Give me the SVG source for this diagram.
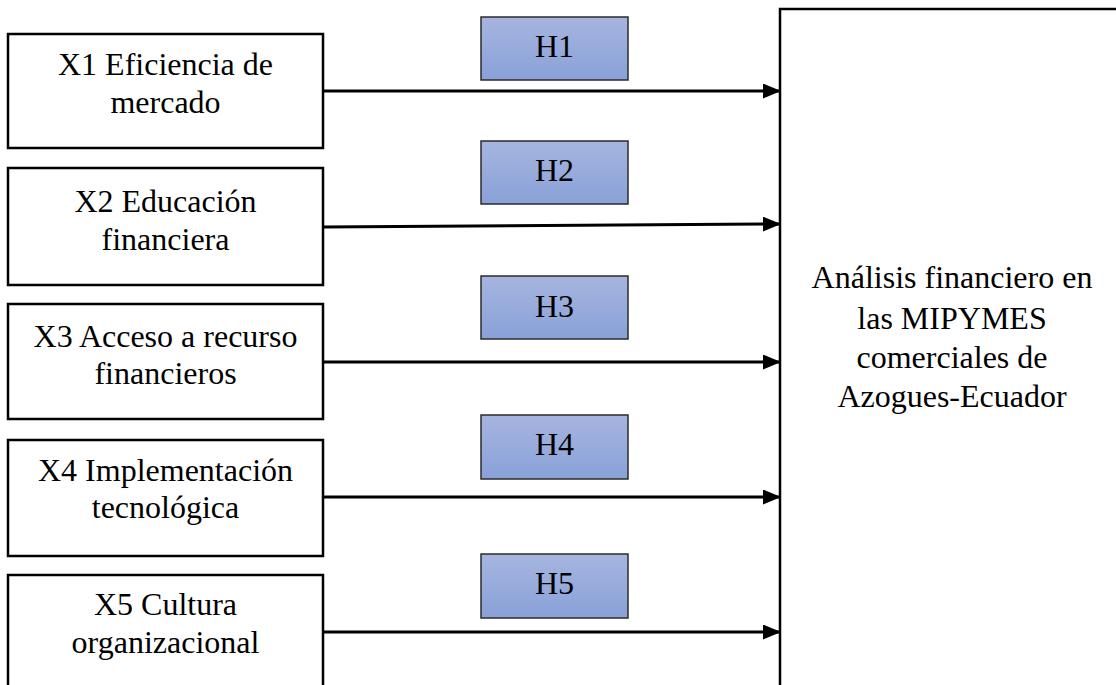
<svg xmlns="http://www.w3.org/2000/svg" width="1116" height="685" viewBox="0 0 1116 685">
<style>
.box{fill:#fff;stroke:#000;stroke-width:2.5}
.h{fill:url(#hg);stroke:#2b2b2b;stroke-width:1.5}
.t{font-family:"Liberation Serif","Times New Roman",serif;font-size:32px;fill:#000;text-anchor:middle}
.c{stroke:#000;stroke-width:3;fill:none;marker-end:url(#ah)}
</style>
<defs>
<linearGradient id="hg" x1="0" y1="0" x2="0" y2="1">
<stop offset="0" stop-color="#a6b5df"/>
<stop offset="1" stop-color="#89a1d8"/>
</linearGradient>
<marker id="ah" viewBox="0 0 18 15" refX="18" refY="7.5" markerWidth="18" markerHeight="15" markerUnits="userSpaceOnUse" orient="auto">
<path d="M0,0 L18,7.5 L0,15 Z" fill="#000"/>
</marker>
</defs>
<rect width="1116" height="685" fill="#fff"/>
<g id="target">
<rect class="box" x="780" y="9" width="360" height="700"/>
<text class="t" x="952" y="288">Análisis financiero en</text>
<text class="t" x="952" y="329">las MIPYMES</text>
<text class="t" x="952" y="368">comerciales de</text>
<text class="t" x="952" y="407">Azogues-Ecuador</text>
</g>
<g id="x1"><rect class="box" x="8" y="34" width="315" height="114"/>
<text class="t" x="165.5" y="75">X1 Eficiencia de</text><text class="t" x="165.5" y="113">mercado</text></g>
<g id="x2"><rect class="box" x="8" y="168" width="315" height="117"/>
<text class="t" x="165.5" y="212">X2 Educación</text><text class="t" x="165.5" y="250">financiera</text></g>
<g id="x3"><rect class="box" x="8" y="304" width="315" height="115"/>
<text class="t" x="165.5" y="347">X3 Acceso a recurso</text><text class="t" x="165.5" y="384">financieros</text></g>
<g id="x4"><rect class="box" x="8" y="440" width="315" height="116"/>
<text class="t" x="165.5" y="481">X4 Implementación</text><text class="t" x="165.5" y="518">tecnológica</text></g>
<g id="x5"><rect class="box" x="8" y="575" width="315" height="130"/>
<text class="t" x="165.5" y="615">X5 Cultura</text><text class="t" x="165.5" y="653">organizacional</text></g>
<g id="h1"><rect class="h" x="481" y="17" width="147" height="63"/><text class="t" x="554.5" y="57">H1</text></g>
<g id="h2"><rect class="h" x="481" y="141" width="147" height="63"/><text class="t" x="554.5" y="181">H2</text></g>
<g id="h3"><rect class="h" x="481" y="276" width="147" height="63"/><text class="t" x="554.5" y="317">H3</text></g>
<g id="h4"><rect class="h" x="481" y="415" width="147" height="64"/><text class="t" x="554.5" y="455">H4</text></g>
<g id="h5"><rect class="h" x="481" y="554" width="147" height="64"/><text class="t" x="554.5" y="594">H5</text></g>
<g id="connectors">
<path class="c" d="M323,91 L781,91"/>
<path class="c" d="M323,227 L781,224"/>
<path class="c" d="M323,362 L781,362"/>
<path class="c" d="M323,497 L781,497"/>
<path class="c" d="M323,632 L781,632"/>
</g>
</svg>
